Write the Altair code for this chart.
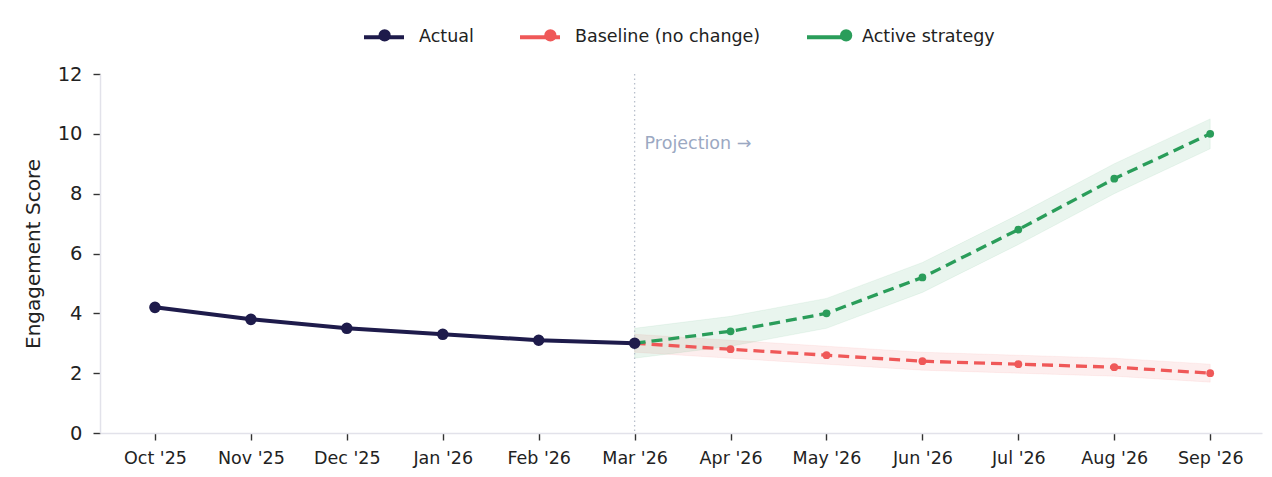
import altair as alt
import pandas as pd

months = ["Oct '25", "Nov '25", "Dec '25", "Jan '26", "Feb '26", "Mar '26",
          "Apr '26", "May '26", "Jun '26", "Jul '26", "Aug '26", "Sep '26"]
actual_months = months[:6]
actual_values = [4.2, 3.8, 3.5, 3.3, 3.1, 3.0]
proj_months = months[5:]
baseline_values = [3.0, 2.8, 2.6, 2.4, 2.3, 2.2, 2.0]
baseline_band = [0.3, 0.3, 0.3, 0.3, 0.3, 0.3, 0.3]
active_values = [3.0, 3.4, 4.0, 5.2, 6.8, 8.5, 10.0]
active_band = [0.5, 0.5, 0.5, 0.5, 0.5, 0.5, 0.5]

series_names = ["Actual", "Baseline (no change)", "Active strategy"]
series_colors = ["#1e1b4b", "#ef5858", "#2a9d5a"]
split_month = ["Mar '26"]
split_label = ["Projection \u2192"]
split_label_y = [9.65]

ZW = "\u200b"  # keeps the marker legend separate from the line legend
idx = {m: i for i, m in enumerate(months)}
actual_df = pd.DataFrame({"month": actual_months,
                          "idx": [idx[m] for m in actual_months],
                          "value": actual_values, "series": "Actual",
                          "dot": "Actual" + ZW})
proj_rows = []
for name, vals, band in [("Baseline (no change)", baseline_values, baseline_band),
                         ("Active strategy", active_values, active_band)]:
    for m, v, b in zip(proj_months, vals, band):
        proj_rows.append({"month": m, "idx": idx[m], "value": v, "lo": v - b,
                          "hi": v + b, "series": name, "dot": name + ZW})
proj_df = pd.DataFrame(proj_rows)
split_df = pd.DataFrame({"month": split_month,
                         "idx": [idx[m] for m in split_month],
                         "label": split_label, "ly": split_label_y})

FONT = "DejaVu Sans"
LINE_W = 40
LEG_X = 262
LEG_Y = -59
FS = 17.5

line_legend = alt.Legend(
    title=None, orient="none", direction="horizontal",
    legendX=LEG_X, legendY=LEG_Y,
    symbolType="stroke", symbolSize=LINE_W ** 2, symbolStrokeWidth=4,
    symbolDash=[1, 0],
    labelFont=FONT, labelFontSize=FS, labelColor="#222", labelLimit=400,
    columnPadding=38, labelOffset=13,
)
pt_size = 150
pt_w = pt_size ** 0.5
dot_legend = alt.Legend(
    title=None, orient="none", direction="horizontal",
    legendX=LEG_X, legendY=LEG_Y + LINE_W / 2 - FS / 2,
    symbolType="circle", symbolSize=pt_size, symbolStrokeWidth=0,
    labelFont=FONT, labelFontSize=FS, labelOpacity=0, labelLimit=400,
    columnPadding=38 + (LINE_W - pt_w), labelOffset=13,
    symbolOffset=LINE_W / 2 - pt_w / 2,
)

label_expr = "[" + ",".join('"%s"' % m for m in months) + "][datum.value]"

cscale = alt.Scale(domain=series_names, range=series_colors)
dscale = alt.Scale(domain=[n + ZW for n in series_names], range=series_colors)
xscale = alt.Scale(domain=[-0.573, 11.54], nice=False, zero=False)
xenc = alt.X("idx:Q", scale=xscale,
             axis=alt.Axis(title=None, labelAngle=0, labelFontSize=FS,
                           labelPadding=9, values=list(range(len(months))),
                           labelExpr=label_expr))
yenc = alt.Y("value:Q", scale=alt.Scale(domain=[0, 12], nice=False),
             axis=alt.Axis(title="Engagement Score", values=[0, 2, 4, 6, 8, 10, 12],
                           labelFontSize=19.5, titleFontSize=20,
                           titleFontWeight="normal", titlePadding=14,
                           labelPadding=11))

bands = []
for name, col in zip(series_names[1:], series_colors[1:]):
    bands.append(alt.Chart(proj_df).transform_filter(
        alt.datum.series == name).mark_area(
        fill=col, fillOpacity=0.1, stroke=col, strokeOpacity=0.07,
        strokeWidth=1).encode(x=xenc, y=alt.Y("lo:Q"), y2="hi:Q"))

rule = alt.Chart(split_df).mark_rule(color="#b8bfcc", strokeDash=[1.5, 3],
                                     strokeWidth=1.3).encode(
    x=xenc, y=alt.value(0), y2=alt.value(359))
label = alt.Chart(split_df).mark_text(
    align="left", baseline="middle", dx=10, font=FONT, fontSize=FS,
    color="#9ba8c2").encode(x=xenc, y=alt.Y("ly:Q"), text="label:N")

color = alt.Color("series:N", scale=cscale, legend=line_legend)
act_line = alt.Chart(actual_df).mark_line(strokeWidth=4).encode(
    x=xenc, y=yenc, color=color)
proj_line = alt.Chart(proj_df).mark_line(strokeDash=[11, 6], strokeWidth=3.3).encode(
    x=xenc, y=yenc, color=color, detail="series:N")

fill = alt.Fill("dot:N", scale=dscale, legend=dot_legend)
proj_pts = alt.Chart(proj_df).mark_point(filled=True, size=60, opacity=1).encode(
    x=xenc, y=yenc, fill=fill)
act_pts = alt.Chart(actual_df).mark_point(filled=True, size=135, opacity=1).encode(
    x=xenc, y=yenc, fill=fill)

chart = alt.layer(*bands, rule, act_line, proj_line, proj_pts, act_pts,
                  label).properties(
    width=1162, height=359,
    autosize=alt.AutoSizeParams(type="none"),
    padding={"left": 92, "top": 66, "right": 2, "bottom": 36},
    background="white",
).configure_view(stroke=None).configure_axis(
    grid=False, labelFont=FONT, titleFont=FONT, labelColor="#222",
    titleColor="#222", tickColor="#333", domainColor="#e2e2ea",
    domainWidth=1.5, tickSize=7, tickWidth=1.4,
)

chart.save("out.html", embed_options={"renderer": "svg", "actions": False})
